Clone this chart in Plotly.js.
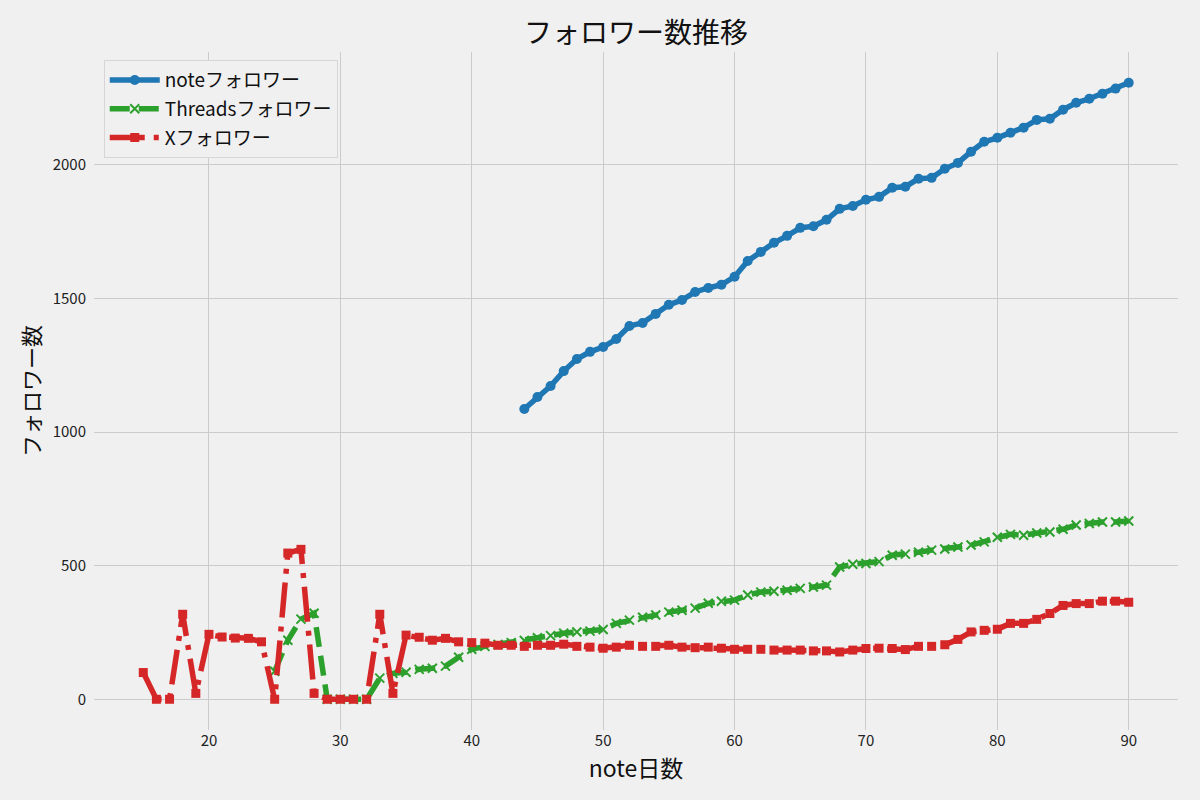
<!DOCTYPE html>
<html>
<head>
<meta charset="utf-8">
<script src="https://cdn.plot.ly/plotly-3.0.1.min.js"></script>
<style>html,body{margin:0;padding:0;background:#f0f0f0;}#chart{width:1200px;height:800px;}</style>
</head>
<body>
<div id="chart"></div>
<script>
// ---- data ----
const noteDays = [44,45,46,47,48,49,50,51,52,53,54,55,56,57,58,59,60,61,62,63,64,65,66,67,68,69,70,71,72,73,74,75,76,77,78,79,80,81,82,83,84,85,86,87,88,89,90];
const noteFollowers = [1086,1131,1172,1228,1273,1300,1318,1348,1397,1408,1442,1476,1494,1524,1539,1551,1581,1640,1674,1708,1734,1764,1770,1794,1835,1846,1869,1880,1914,1918,1948,1951,1985,2007,2049,2086,2101,2120,2139,2168,2172,2206,2232,2247,2266,2285,2307];

const threadsDays = [25,26,27,28,29,30,31,32,33,34,35,36,37,38,39,40,41,42,43,44,45,46,47,48,49,50,51,52,53,54,55,56,57,58,59,60,61,62,63,64,65,66,67,68,69,70,71,72,73,74,75,76,77,78,79,80,81,82,83,84,85,86,87,88,89,90];
const threadsFollowers = [105,221,300,322,0,0,0,0,79,97,101,112,116,124,157,187,198,205,212,220,230,238,247,252,255,261,284,296,307,315,326,333,341,359,367,371,390,401,404,408,415,420,427,495,505,508,515,539,543,550,558,562,570,577,589,606,617,614,622,626,636,652,658,663,663,667];

const xDays = [15,16,17,18,19,20,21,22,23,24,25,26,27,28,29,30,31,32,33,34,35,36,37,38,39,40,41,42,43,44,45,46,47,48,49,50,51,52,53,54,55,56,57,58,59,60,61,62,63,64,65,66,67,68,69,70,71,72,73,74,75,76,77,78,79,80,81,82,83,84,85,86,87,88,89,90];
const xFollowers = [100,0,0,318,22,243,233,229,228,215,0,547,561,22,0,0,0,0,318,22,240,232,221,228,215,212,210,202,202,198,202,202,206,198,195,191,195,202,198,198,202,195,193,195,191,187,187,187,184,184,184,181,181,177,184,190,191,190,186,198,198,204,224,252,258,262,284,284,299,321,351,358,358,367,367,363];

const seriesNames = ['noteフォロワー','Threadsフォロワー','Xフォロワー'];
const titleText = 'フォロワー数推移';
const xTitle = 'note日数';
const yTitle = 'フォロワー数';
const xTickVals = [20,30,40,50,60,70,80,90];
const yTickVals = [0,500,1000,1500,2000];

const FONT = '"Noto Sans CJK JP", "Noto Sans", sans-serif';

const traces = [
  {x: noteDays, y: noteFollowers, name: seriesNames[0], legendgroup: 'a', type: 'scatter', mode: 'lines+markers',
   line: {color: '#1f77b4', width: 5.5},
   marker: {symbol: 'circle', size: 10, color: '#1f77b4'}},
  {x: threadsDays, y: threadsFollowers, name: seriesNames[1], legendgroup: 'b', type: 'scatter', mode: 'lines+markers',
   line: {color: '#2ca02c', width: 5.5, dash: '20px,9px'},
   marker: {symbol: 'x-thin', size: 9, color: '#2ca02c', line: {color: '#2ca02c', width: 2}}},
  {x: xDays, y: xFollowers, name: seriesNames[2], legendgroup: 'c', type: 'scatter', mode: 'lines+markers',
   line: {color: '#d62728', width: 5.5, dash: '35px,9px,5px,9px'},
   marker: {symbol: 'square', size: 9, color: '#d62728'}}
];

const layout = {
  width: 1200, height: 800,
  paper_bgcolor: '#f0f0f0', plot_bgcolor: '#f0f0f0',
  margin: {l: 94, r: 22, t: 52, b: 70},
  font: {family: FONT, color: '#222', size: 15},
  title: {text: titleText, font: {family: FONT, size: 28, color: '#111'},
          x: 0.5, xref: 'paper', xanchor: 'center', y: 1 - 33/800, yanchor: 'middle', yref: 'container'},
  xaxis: {range: [11.25, 93.75], tickvals: xTickVals, showgrid: true, gridcolor: '#cbcbcb', gridwidth: 1,
          zeroline: false, showline: false, ticks: '',
          tickfont: {family: FONT, size: 15, color: '#222'},
          title: {text: xTitle, font: {family: FONT, size: 23, color: '#111'}, standoff: 0}},
  yaxis: {range: [-115, 2422], tickvals: yTickVals, showgrid: true, gridcolor: '#cbcbcb', gridwidth: 1,
          zeroline: false, showline: false, ticks: 'outside', ticklen: 4, tickcolor: 'rgba(0,0,0,0)',
          tickfont: {family: FONT, size: 15, color: '#222'},
          title: {text: yTitle, font: {family: FONT, size: 22, color: '#111'}, standoff: 5}},
  legend: {x: 0.009, y: 0.988, xanchor: 'left', yanchor: 'top',
           bgcolor: '#f0f0f0', bordercolor: '#d6d6d6', borderwidth: 1,
           itemwidth: 50, tracegroupgap: 1, traceorder: 'grouped',
           font: {family: FONT, size: 19, color: '#111'}},
  showlegend: true
};

Plotly.newPlot('chart', traces, layout, {displayModeBar: false, staticPlot: true});
</script>
</body>
</html>
